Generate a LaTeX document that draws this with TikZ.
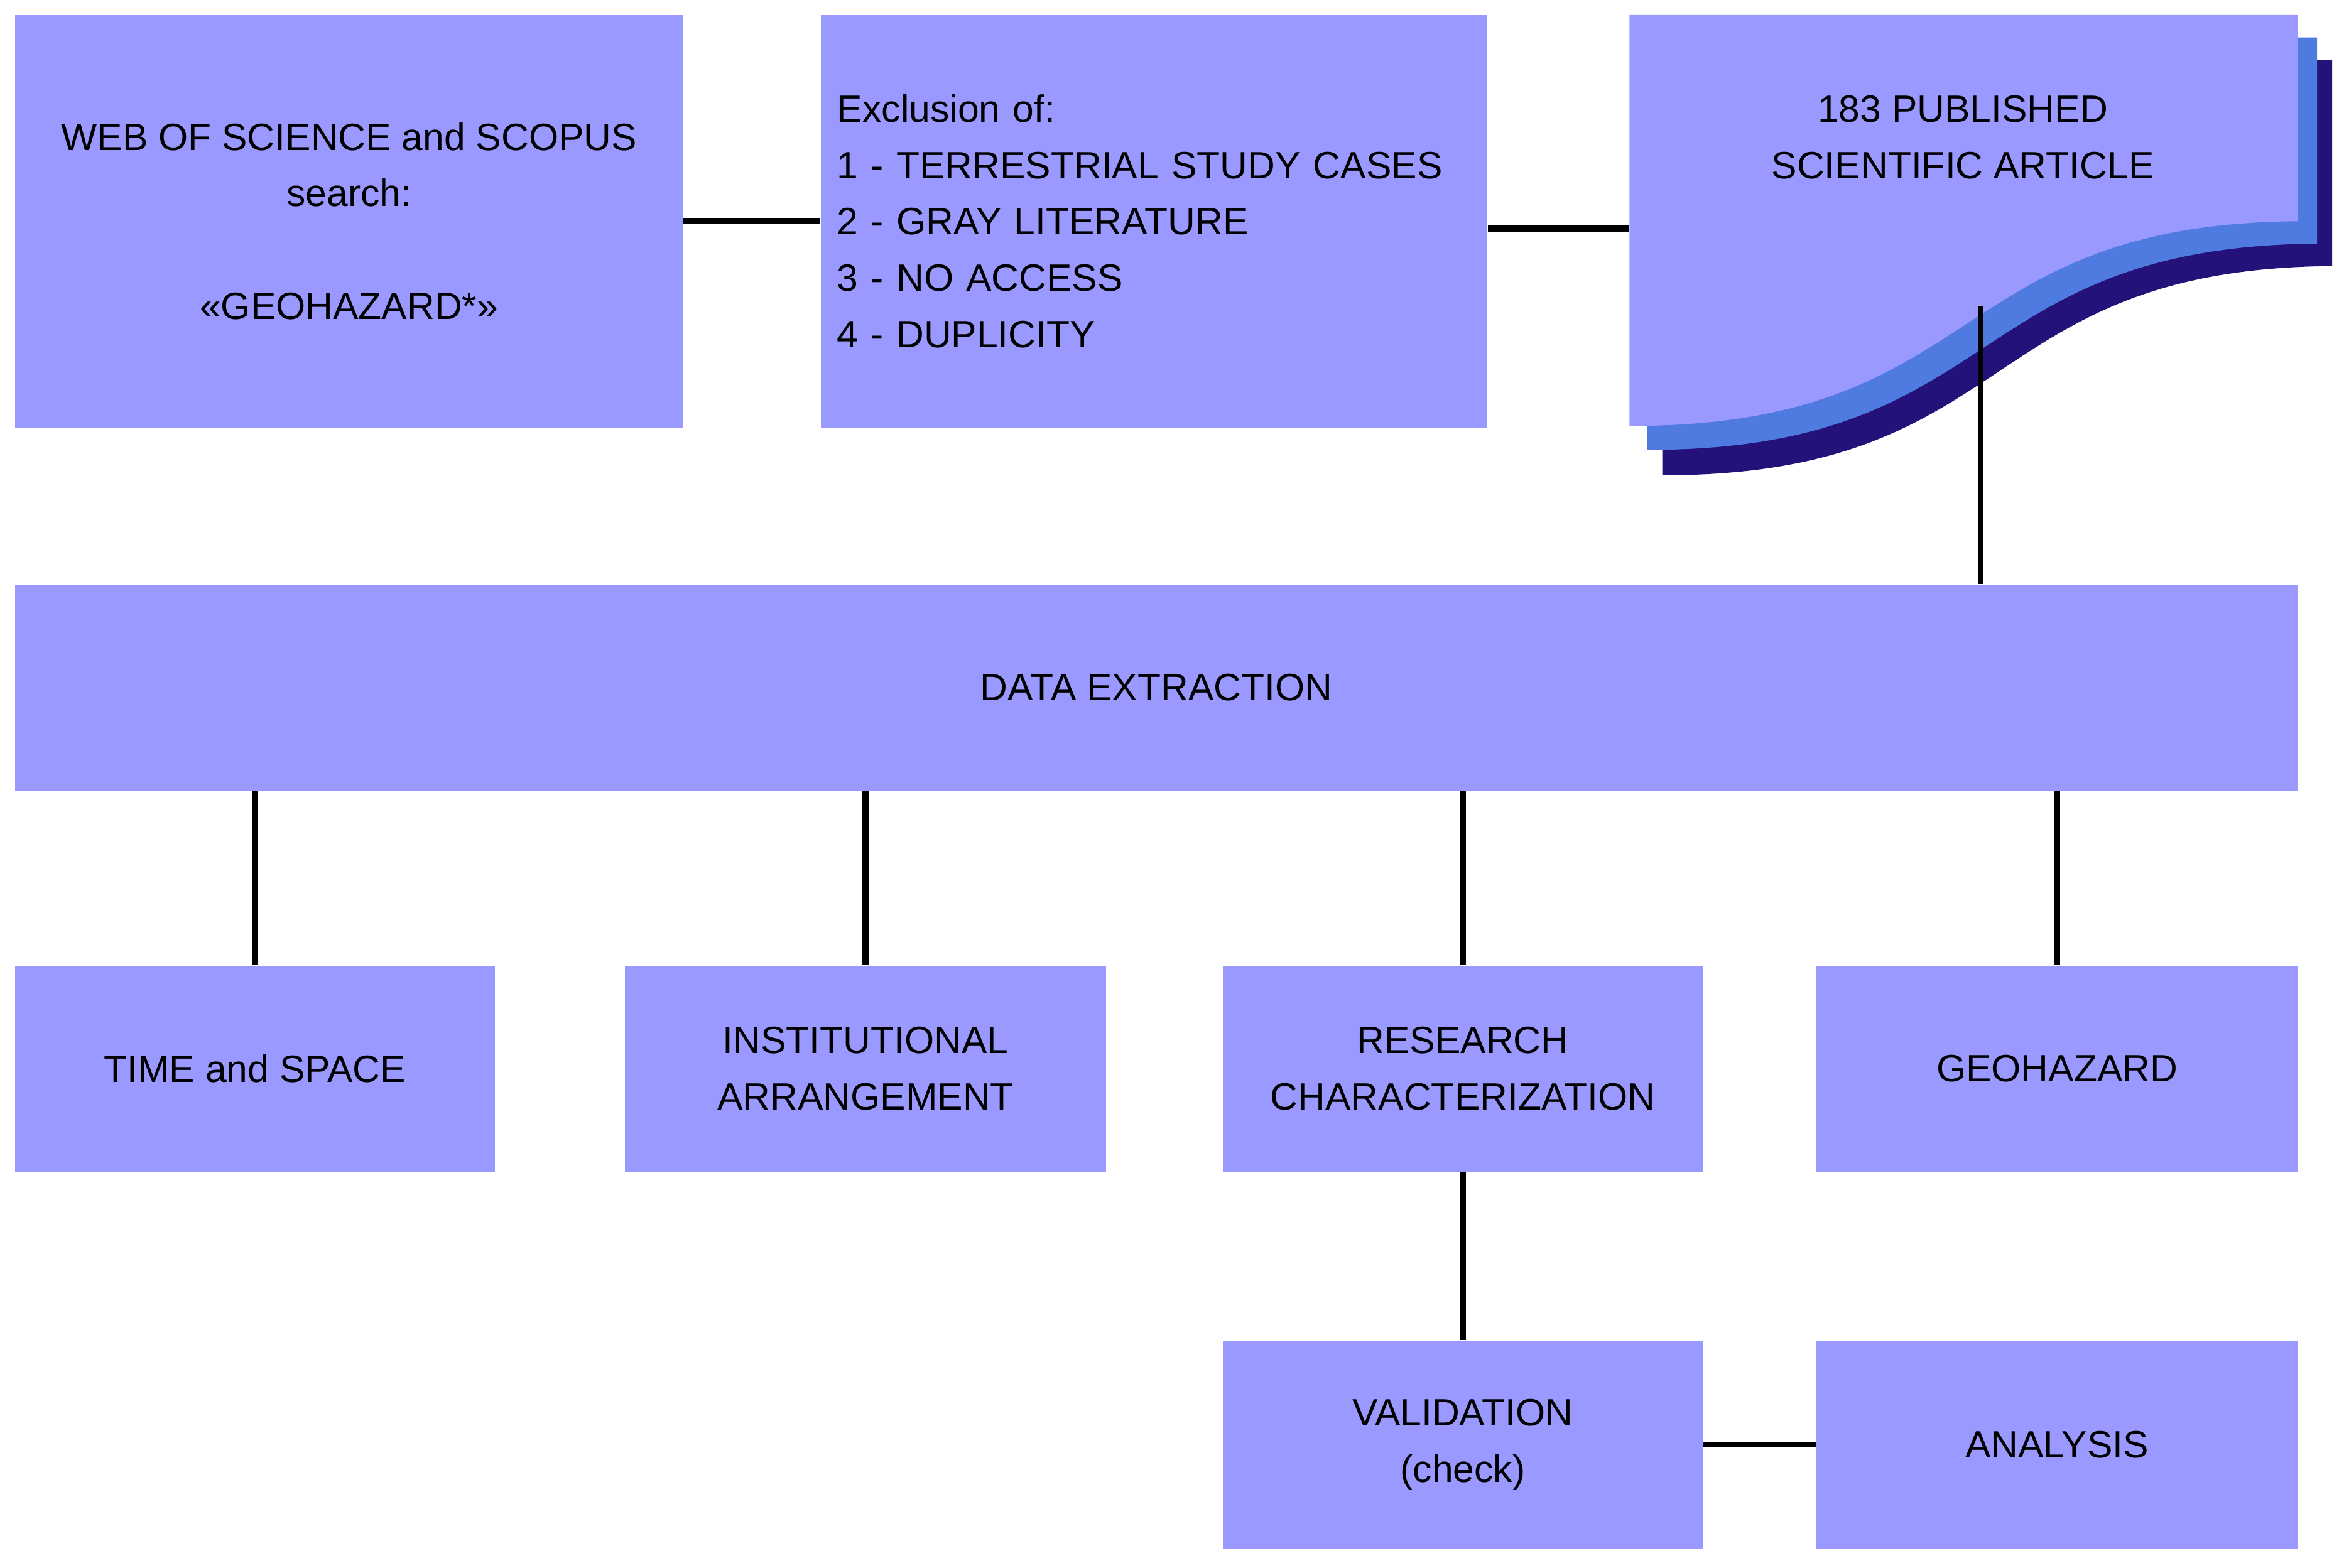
\documentclass[tikz,border=0pt]{standalone}
\usepackage{fontspec}
\setmainfont{Liberation Sans}
\definecolor{boxc}{HTML}{9999FF}
\definecolor{sh1}{HTML}{4F7BE0}
\definecolor{sh2}{HTML}{24127A}
\begin{document}
\begin{tikzpicture}[x=0.02cm,y=-0.02cm,
  box/.style={fill=boxc,draw=none,inner sep=0pt,align=center,font=\fontsize{14.5}{21.5}\selectfont},
  conn/.style={line width=2.3pt,black}]
\useasboundingbox[fill=white] (0,0) rectangle (1568,1049);
% document shape with shadows
\fill[sh2] (1112,40) -- (1560,40) -- (1560,178) .. controls (1322,180) and (1352,318) .. (1112,318) -- cycle;
\fill[sh1] (1102,25) -- (1550,25) -- (1550,163) .. controls (1312,165) and (1342,301) .. (1102,301) -- cycle;
\fill[boxc] (1090,10) -- (1537,10) -- (1537,148) .. controls (1300,150) and (1330,285) .. (1090,285) -- cycle;
\node[box] (doc) at (1313,92) {183 PUBLISHED\\SCIENTIFIC ARTICLE};
\coordinate (docL) at (1090,153);
\coordinate (docB) at (1325,205);
\node[box,minimum width=8.94cm,minimum height=5.52cm] (b1) at (233.5,148)
  {WEB OF SCIENCE and SCOPUS\\search:\\\mbox{}\\«GEOHAZARD*»};
\node[box,minimum width=8.92cm,minimum height=5.52cm,text width=8.48cm,inner xsep=0.22cm,align=left] (b2) at (772,148)
  {Exclusion of:\\1 - TERRESTRIAL STUDY CASES\\2 - GRAY LITERATURE\\3 - NO ACCESS\\4 - DUPLICITY};
\node[box,minimum width=30.54cm,minimum height=2.76cm] (data) at (773.5,460) {DATA EXTRACTION};
\node[box,minimum width=6.42cm,minimum height=2.76cm] (r1) at (170.5,715) {TIME and SPACE};
\node[box,minimum width=6.44cm,minimum height=2.76cm] (r2) at (579,715) {INSTITUTIONAL\\ARRANGEMENT};
\node[box,minimum width=6.42cm,minimum height=2.76cm] (r3) at (978.5,715) {RESEARCH\\CHARACTERIZATION};
\node[box,minimum width=6.44cm,minimum height=2.76cm] (r4) at (1376,715) {GEOHAZARD};
\node[box,minimum width=6.42cm,minimum height=2.78cm] (val) at (978.5,966.5) {VALIDATION\\(check)};
\node[box,minimum width=6.44cm,minimum height=2.78cm] (ana) at (1376,966.5) {ANALYSIS};
\draw[conn] (b1.east) -- (b2.west);
\draw[conn] (b2.east |- docL) -- (docL);
\draw[conn] (docB) -- (docB |- data.north);
\foreach \r in {r1,r2,r3,r4} \draw[conn] (\r.north |- data.south) -- (\r.north);
\draw[conn] (r3.south) -- (val.north);
\draw[conn] (val.east) -- (ana.west);
\end{tikzpicture}
\end{document}
